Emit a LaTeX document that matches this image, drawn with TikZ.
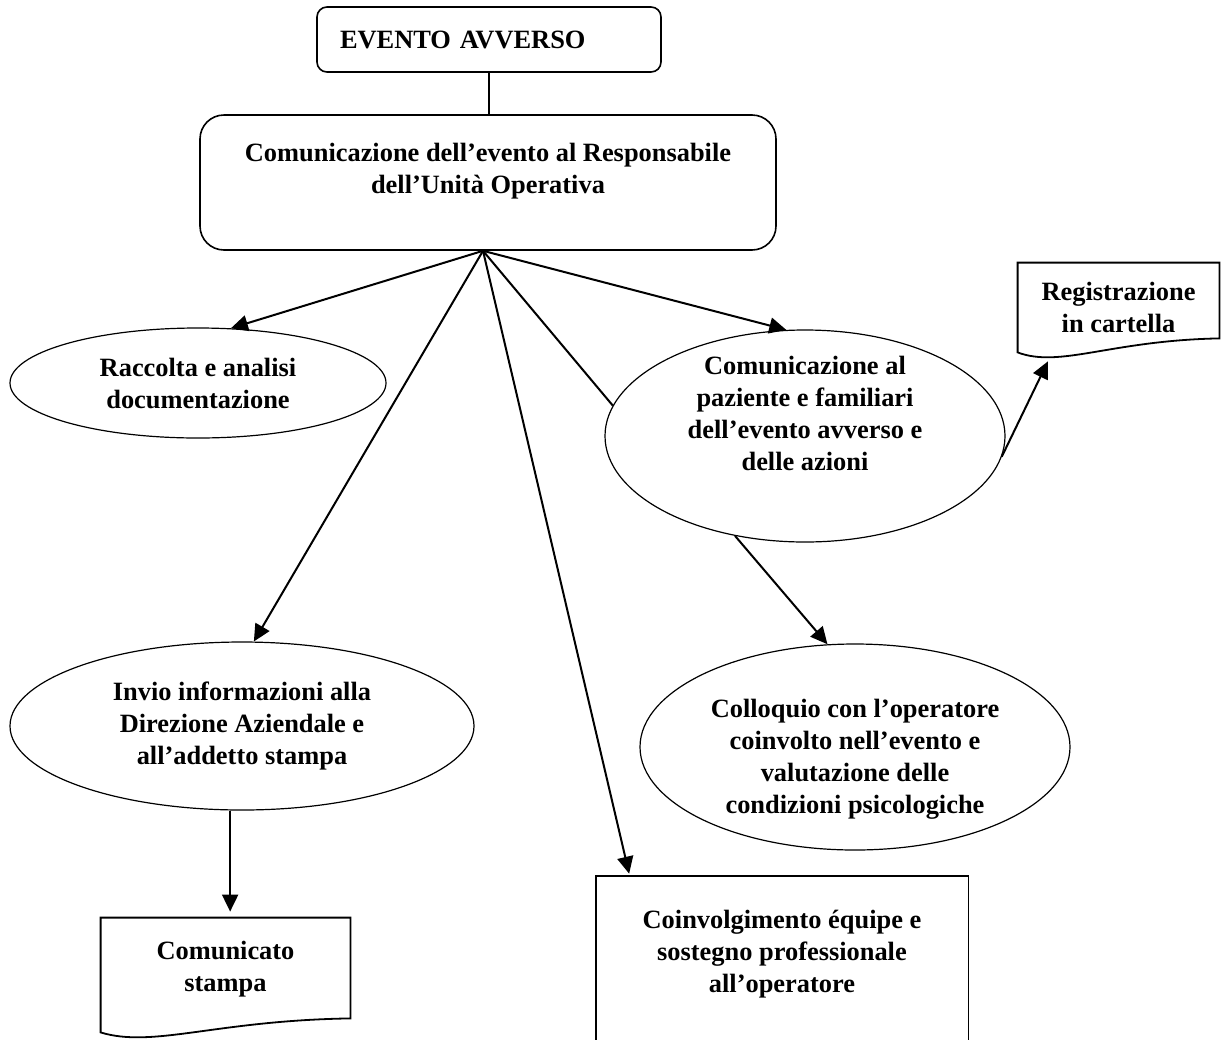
\documentclass[tikz,border=0pt]{standalone}
\usepackage{fontspec}
\setmainfont{Liberation Serif}
\usetikzlibrary{shapes.geometric,arrows.meta,calc}
\tikzset{
  txt/.style={font=\bfseries\fontsize{13.2}{16}\selectfont, align=center},
  oval/.style={ellipse, draw, line width=0.6pt, inner sep=0pt, txt},
  frame/.style={draw, line width=0.9pt},
  arr/.style={line width=1pt, -{Triangle[length=8.5pt,width=8pt]}},
  link/.style={line width=1pt},
}
% outline of a document symbol with a wavy lower edge
\newcommand{\docframe}[2][0pt]{%
  \draw[frame] ([yshift=-#1]#2.south west) -- (#2.north west) -- (#2.north east)
    -- ([yshift=7pt-#1]#2.south east)
    .. controls ($(#2.south west)!0.46!(#2.south east)+(0,6pt-#1)$)
    and ($(#2.south west)!0.21!(#2.south east)+(0,-8pt-#1)$) .. cycle;}
\begin{document}
\begin{tikzpicture}[x=0.5pt, y=-0.5pt]
  \useasboundingbox (0,0) rectangle (1225,1039);
  % boxes
  \node[txt, draw, line width=0.8pt, rounded corners=5pt, align=left,
    text width=149pt, inner xsep=11.5pt, minimum height=32.5pt] (ev) at (489,39.5) {EVENTO AVVERSO};
  \node[draw, line width=0.8pt, rounded corners=12pt, minimum width=288pt, minimum height=67.5pt,
    label={[txt, yshift=5.5pt]center:Comunicazione dell’evento al Responsabile\\dell’Unità Operativa}] (resp) at (488,182.5) {};
  \coordinate (hub) at ([xshift=-2.5pt]resp.south);
  % ovals
  \node[oval, minimum width=188pt, minimum height=55pt] (racc) at (198,383) {Raccolta e analisi\\documentazione};
  \node[oval, minimum width=200pt, minimum height=106pt,
    label={[txt, yshift=11.5pt]center:Comunicazione al\\paziente e familiari\\dell’evento avverso e\\delle azioni}] (paz) at (805,436) {};
  \node[oval, minimum width=232pt, minimum height=84pt] (invio) at (242,726) {Invio informazioni alla\\Direzione Aziendale e\\all’addetto stampa};
  \node[oval, minimum width=215pt, minimum height=103pt,
    label={[txt, yshift=-6pt]center:Colloquio con l’operatore\\coinvolto nell’evento e\\valutazione delle\\condizioni psicologiche}] (coll) at (855,747) {};
  % documents
  \node[txt, minimum width=100.5pt, minimum height=44.5pt] (reg) at (1118.5,307.5) {Registrazione\\in cartella};
  \node[txt, minimum width=124.5pt, minimum height=51pt] (stampa) at (225.5,969) {Comunicato\\stampa};
  \node[txt, minimum width=186pt, minimum height=78pt] (coin) at (782,954) {Coinvolgimento équipe e\\sostegno professionale\\all’operatore};
  \docframe{reg}
  \docframe[6pt]{stampa}
  \draw[frame] ([yshift=-10pt]coin.south west) -- (coin.north west) -- (coin.north east) -- ([yshift=-10pt]coin.south east);
  % connectors
  \draw[link] (ev.south) -- (ev.south |- resp.north);
  \draw[arr] (hub) -- (racc.59);
  \draw[arr] (hub) -- (paz.100);
  \draw[link] (hub) -- (paz.171);
  \draw[arr] (hub) -- (invio.82);
  \draw[arr, shorten >=1pt] (hub) -- ([xshift=17pt]coin.north west);
  \draw[arr] (paz.235) -- (coll.105);
  \draw[arr] (paz.-6) -- ($(reg.south west)!0.15!(reg.south east)+(0,-4.5pt)$);
  \draw[arr, shorten >=3pt] (invio.262) -- (invio.262 |- stampa.north);
\end{tikzpicture}
\end{document}
